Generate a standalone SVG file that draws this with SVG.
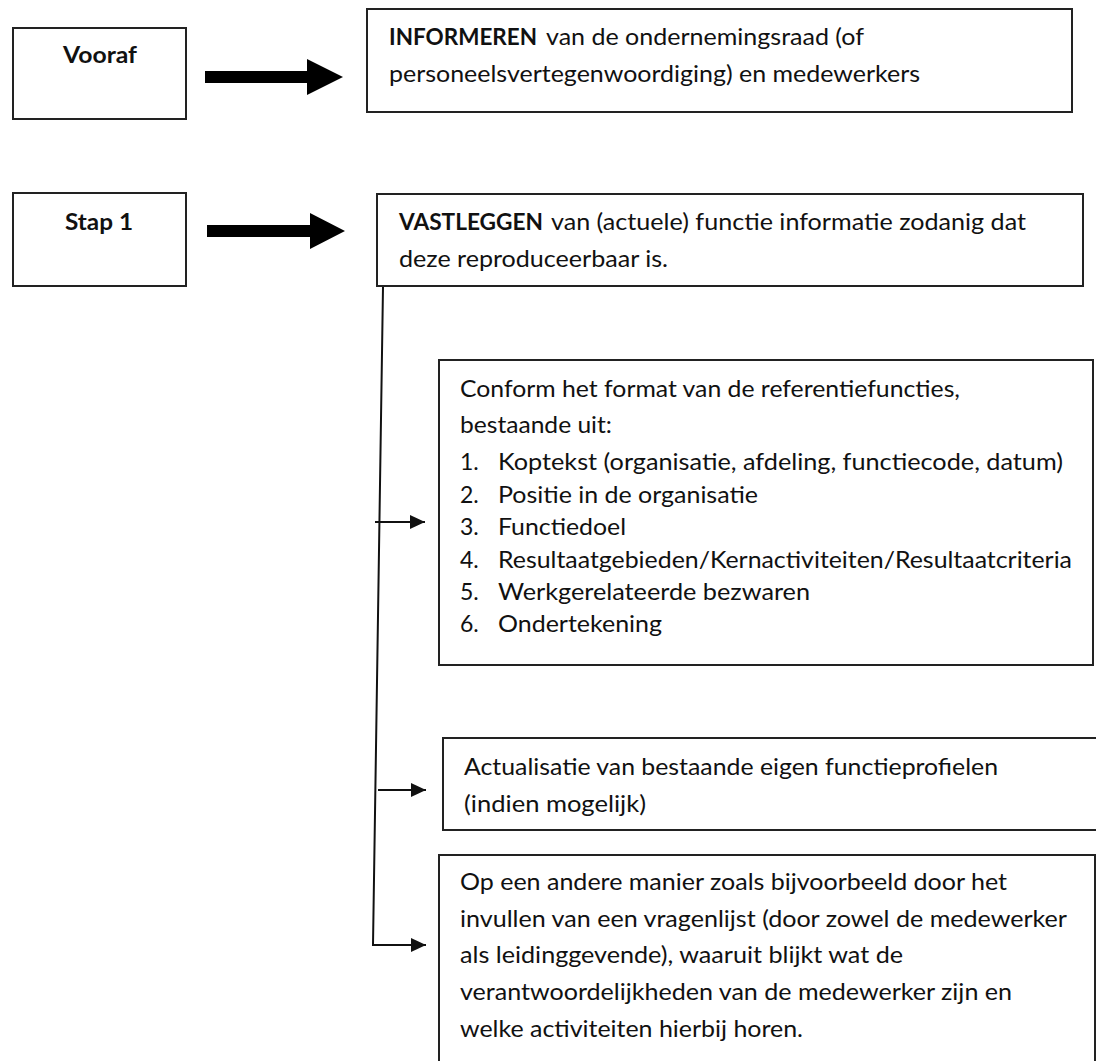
<svg xmlns="http://www.w3.org/2000/svg" width="1096" height="1061" viewBox="0 0 1096 1061">
  <style>
    .box { fill: #ffffff; stroke: #222222; stroke-width: 2; }
    .t { font-family: Lato, "Liberation Sans", sans-serif; font-size: 23px; fill: #111111; }
    .b { font-weight: bold; }
    .conn { fill: none; stroke: #111111; stroke-width: 2; }
    .blk { fill: #000000; }
  </style>
  <defs>
    <marker id="ah" markerUnits="userSpaceOnUse" markerWidth="16" markerHeight="16" refX="15" refY="7" orient="auto">
      <path d="M0,0 L15,7 L0,14 z" fill="#111111"/>
    </marker>
  </defs>
  <rect width="1096" height="1061" fill="#ffffff"/>

  <g id="connectors">
    <polygon class="blk" points="205,71 307,71 307,59 343,77 307,95 307,83 205,83"/>
    <polygon class="blk" points="207,225 310,225 310,213 345,231 310,249 310,237 207,237"/>
    <polyline class="conn" points="383,287 373,945 426,945" marker-end="url(#ah)"/>
    <line class="conn" x1="375" y1="522" x2="425" y2="522" marker-end="url(#ah)"/>
    <line class="conn" x1="378" y1="790" x2="426" y2="790" marker-end="url(#ah)"/>
  </g>

  <g id="vooraf">
    <rect class="box" x="13" y="28" width="173" height="91"/>
    <text class="t b" x="100" y="63" text-anchor="middle" textLength="74" lengthAdjust="spacingAndGlyphs">Vooraf</text>
  </g>

  <g id="informeren">
    <rect class="box" x="367" y="9" width="705" height="103"/>
    <text class="t b" x="389" y="45" textLength="148" lengthAdjust="spacingAndGlyphs">INFORMEREN</text>
    <text class="t" x="546" y="45" textLength="318" lengthAdjust="spacingAndGlyphs">van de ondernemingsraad (of</text>
    <text class="t" x="389" y="82" textLength="531" lengthAdjust="spacingAndGlyphs">personeelsvertegenwoordiging) en medewerkers</text>
  </g>

  <g id="stap1">
    <rect class="box" x="13" y="193" width="173" height="93"/>
    <text class="t b" x="99" y="230" text-anchor="middle" textLength="68" lengthAdjust="spacingAndGlyphs">Stap 1</text>
  </g>

  <g id="vastleggen">
    <rect class="box" x="377" y="194" width="706" height="92"/>
    <text class="t b" x="399" y="230" textLength="144" lengthAdjust="spacingAndGlyphs">VASTLEGGEN</text>
    <text class="t" x="551" y="230" textLength="475" lengthAdjust="spacingAndGlyphs">van (actuele) functie informatie zodanig dat</text>
    <text class="t" x="399" y="267" textLength="269" lengthAdjust="spacingAndGlyphs">deze reproduceerbaar is.</text>
  </g>

  <g id="conform">
    <rect class="box" x="439" y="360" width="654" height="305"/>
    <text class="t" x="460" y="397" textLength="500" lengthAdjust="spacingAndGlyphs">Conform het format van de referentiefuncties,</text>
    <text class="t" x="460" y="433" textLength="152" lengthAdjust="spacingAndGlyphs">bestaande uit:</text>
    <text class="t" x="460" y="470">1.</text>
    <text class="t" x="498" y="470" textLength="565" lengthAdjust="spacingAndGlyphs">Koptekst (organisatie, afdeling, functiecode, datum)</text>
    <text class="t" x="460" y="503">2.</text>
    <text class="t" x="498" y="503" textLength="260" lengthAdjust="spacingAndGlyphs">Positie in de organisatie</text>
    <text class="t" x="460" y="535">3.</text>
    <text class="t" x="498" y="535" textLength="128" lengthAdjust="spacingAndGlyphs">Functiedoel</text>
    <text class="t" x="460" y="568">4.</text>
    <text class="t" x="498" y="568" textLength="574" lengthAdjust="spacingAndGlyphs">Resultaatgebieden/Kernactiviteiten/Resultaatcriteria</text>
    <text class="t" x="460" y="600">5.</text>
    <text class="t" x="498" y="600" textLength="312" lengthAdjust="spacingAndGlyphs">Werkgerelateerde bezwaren</text>
    <text class="t" x="460" y="632">6.</text>
    <text class="t" x="498" y="632" textLength="164" lengthAdjust="spacingAndGlyphs">Ondertekening</text>
  </g>

  <g id="actualisatie">
    <rect class="box" x="443" y="738" width="660" height="92"/>
    <text class="t" x="464" y="775" textLength="534" lengthAdjust="spacingAndGlyphs">Actualisatie van bestaande eigen functieprofielen</text>
    <text class="t" x="464" y="812" textLength="182" lengthAdjust="spacingAndGlyphs">(indien mogelijk)</text>
  </g>

  <g id="andere-manier">
    <rect class="box" x="439" y="855" width="656" height="220"/>
    <text class="t" x="460" y="890" textLength="547" lengthAdjust="spacingAndGlyphs">Op een andere manier zoals bijvoorbeeld door het</text>
    <text class="t" x="460" y="927" textLength="607" lengthAdjust="spacingAndGlyphs">invullen van een vragenlijst (door zowel de medewerker</text>
    <text class="t" x="460" y="963" textLength="443" lengthAdjust="spacingAndGlyphs">als leidinggevende), waaruit blijkt wat de</text>
    <text class="t" x="460" y="1000" textLength="552" lengthAdjust="spacingAndGlyphs">verantwoordelijkheden van de medewerker zijn en</text>
    <text class="t" x="460" y="1037" textLength="343" lengthAdjust="spacingAndGlyphs">welke activiteiten hierbij horen.</text>
  </g>
</svg>
